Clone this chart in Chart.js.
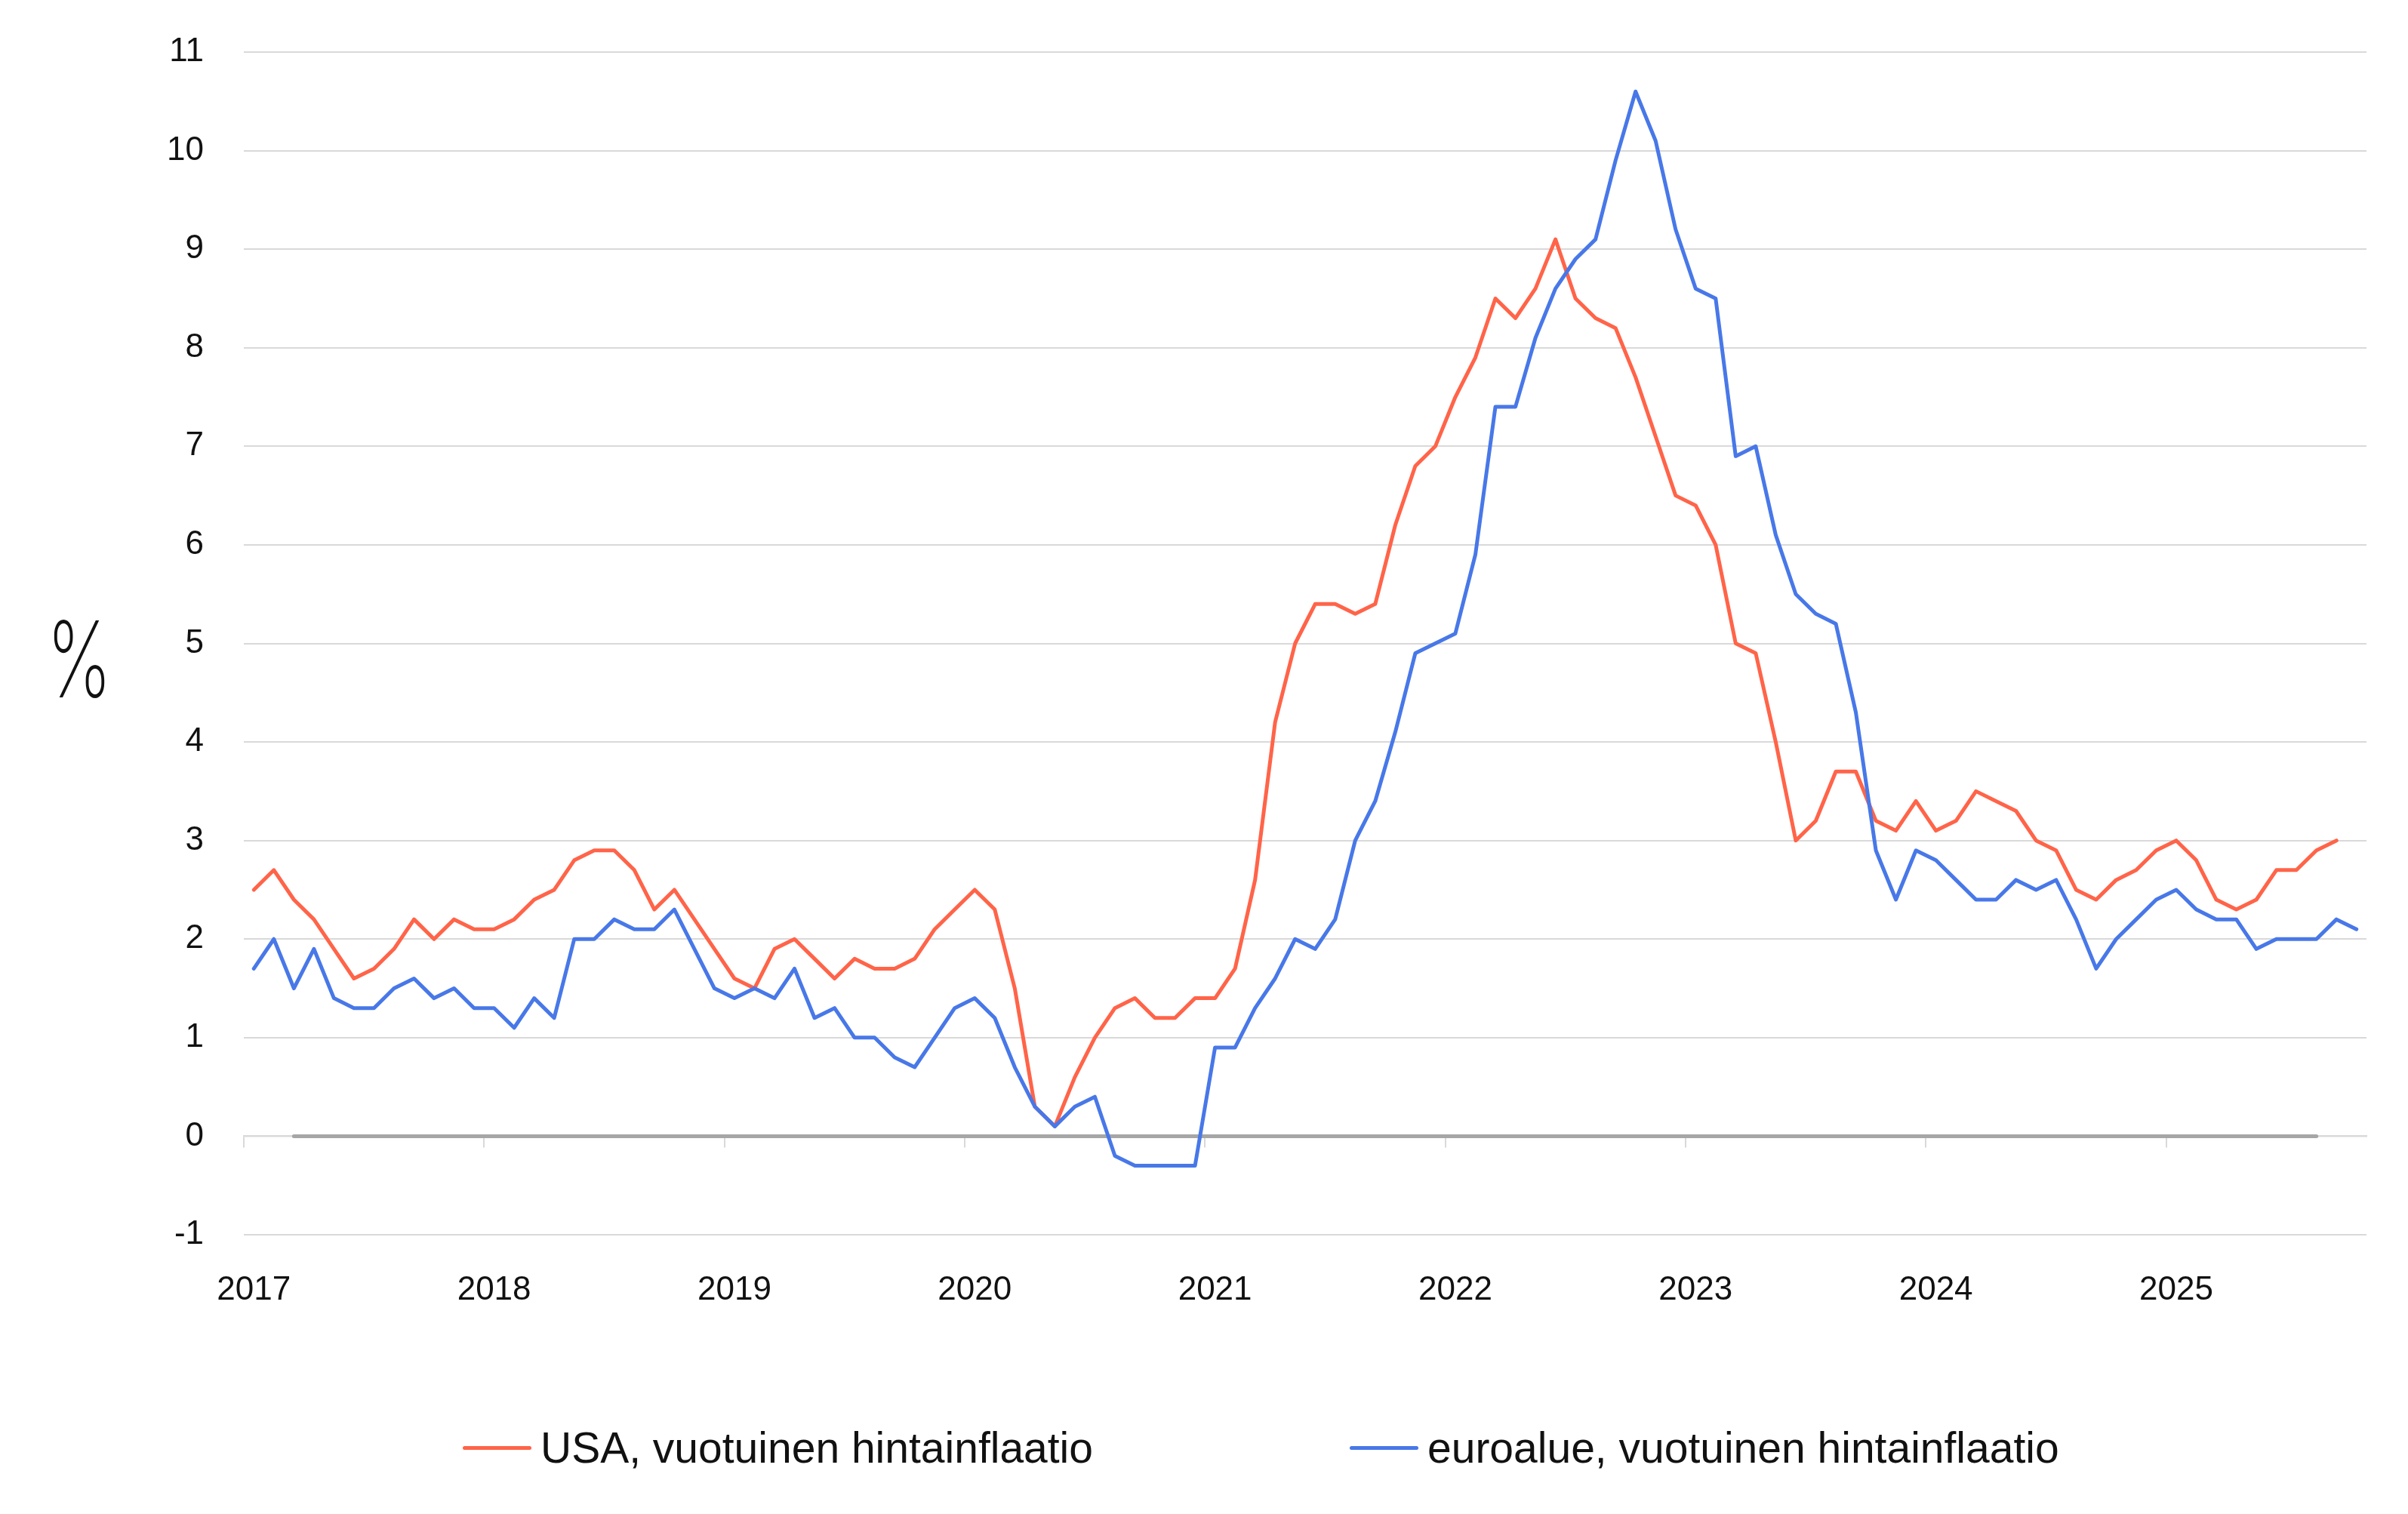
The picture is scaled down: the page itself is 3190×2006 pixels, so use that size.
<!DOCTYPE html>
<html lang="fi">
<head>
<meta charset="utf-8">
<script src="https://cdn.jsdelivr.net/npm/chart.js@4.4.1/dist/chart.umd.min.js"></script>
<style>
	html,body{margin:0;padding:0;background:#fff;}
	#wrap{position:relative;width:3190px;height:2006px;}
	#legend{position:absolute;left:613px;top:1885px;display:flex;align-items:center;
		font-family:"Liberation Sans",Arial,sans-serif;font-size:57px;line-height:66px;color:#111;white-space:nowrap;}
	.item{display:flex;align-items:center;}
	.item + .item{margin-left:340px;}
	.swatch{width:91px;height:5px;border-radius:3px;margin-right:12px;}
</style>
</head>
<body>
<div id="wrap">
	<canvas id="chart" width="3190" height="2006"></canvas>
	<div id="legend"></div>
</div>
<script>
// monthly, Jan 2017 .. Oct 2025
var years=['2017','2018','2019','2020','2021','2022','2023','2024','2025'];
var months=['01','02','03','04','05','06','07','08','09','10','11','12'];
var lastMonth=10; // Oct 2025

var usa=[
	2.5,2.7,2.4,2.2,1.9,1.6,1.7,1.9,2.2,2.0,2.2,2.1,
	2.1,2.2,2.4,2.5,2.8,2.9,2.9,2.7,2.3,2.5,2.2,1.9,
	1.6,1.5,1.9,2.0,1.8,1.6,1.8,1.7,1.7,1.8,2.1,2.3,
	2.5,2.3,1.5,0.3,0.1,0.6,1.0,1.3,1.4,1.2,1.2,1.4,
	1.4,1.7,2.6,4.2,5.0,5.4,5.4,5.3,5.4,6.2,6.8,7.0,
	7.5,7.9,8.5,8.3,8.6,9.1,8.5,8.3,8.2,7.7,7.1,6.5,
	6.4,6.0,5.0,4.9,4.0,3.0,3.2,3.7,3.7,3.2,3.1,3.4,
	3.1,3.2,3.5,3.4,3.3,3.0,2.9,2.5,2.4,2.6,2.7,2.9,
	3.0,2.8,2.4,2.3,2.4,2.7,2.7,2.9,3.0
];
var euro=[
	1.7,2.0,1.5,1.9,1.4,1.3,1.3,1.5,1.6,1.4,1.5,1.3,
	1.3,1.1,1.4,1.2,2.0,2.0,2.2,2.1,2.1,2.3,1.9,1.5,
	1.4,1.5,1.4,1.7,1.2,1.3,1.0,1.0,0.8,0.7,1.0,1.3,
	1.4,1.2,0.7,0.3,0.1,0.3,0.4,-0.2,-0.3,-0.3,-0.3,-0.3,
	0.9,0.9,1.3,1.6,2.0,1.9,2.2,3.0,3.4,4.1,4.9,5.0,
	5.1,5.9,7.4,7.4,8.1,8.6,8.9,9.1,9.9,10.6,10.1,9.2,
	8.6,8.5,6.9,7.0,6.1,5.5,5.3,5.2,4.3,2.9,2.4,2.9,
	2.8,2.6,2.4,2.4,2.6,2.5,2.6,2.2,1.7,2.0,2.2,2.4,
	2.5,2.3,2.2,2.2,1.9,2.0,2.0,2.0,2.2,2.1
];
// grey baseline series
var baseline=[
	null,null,0,0,0,0,0,0,0,0,0,0,
	0,0,0,0,0,0,0,0,0,0,0,0,
	0,0,0,0,0,0,0,0,0,0,0,0,
	0,0,0,0,0,0,0,0,0,0,0,0,
	0,0,0,0,0,0,0,0,0,0,0,0,
	0,0,0,0,0,0,0,0,0,0,0,0,
	0,0,0,0,0,0,0,0,0,0,0,0,
	0,0,0,0,0,0,0,0,0,0,0,0,
	0,0,0,0,0,0,0,0,null,null
];
var seriesNames=['USA, vuotuinen hintainflaatio','euroalue, vuotuinen hintainflaatio'];
var yTicks={min:-1,max:11,step:1};

var labels=[];
years.forEach(function(y,yi){
	months.forEach(function(m,mi){
		if(yi<years.length-1||mi<lastMonth) labels.push(y+'-'+m);
	});
});

var FONT='"Liberation Sans", Arial, sans-serif';
var RED='#FF6449',BLUE='#4878E8',GREY='#A6A6A6',GRID='#D9D9D9',TXT='#111111';

var percentTitle={
	id:'percentTitle',
	afterDraw:function(chart){
		var ctx=chart.ctx,a=chart.chartArea;
		ctx.save();
		ctx.font='200 140px Inter, "Liberation Sans", sans-serif';
		var w=ctx.measureText('%').width;
		ctx.translate(a.left-218,(a.top+a.bottom)/2+71);
		ctx.scale(86/w,1);
		ctx.fillStyle=TXT;
		ctx.textAlign='center';
		ctx.textBaseline='alphabetic';
		ctx.fillText('%',0,0);
		ctx.restore();
	}
};

var chartData={
	labels:labels,
	datasets:[
		{label:seriesNames[0],data:usa,borderColor:RED,backgroundColor:RED,borderWidth:5,order:1},
		{label:seriesNames[1],data:euro,borderColor:BLUE,backgroundColor:BLUE,borderWidth:5,order:0},
		{label:'',data:baseline,borderColor:GREY,backgroundColor:GREY,borderWidth:5,order:2}
	]
};

var chartOption={
	responsive:false,
	animation:false,
	devicePixelRatio:1,
	layout:{padding:{top:69,right:55,bottom:250,left:0}},
	elements:{point:{radius:0,hoverRadius:0},line:{tension:0,borderCapStyle:'round',borderJoinStyle:'round'}},
	plugins:{legend:{display:false},tooltip:{enabled:false}},
	scales:{
		x:{
			type:'category',position:'bottom',offset:true,
			grid:{display:false,drawTicks:false},border:{display:false},
			ticks:{autoSkip:false,maxRotation:0,padding:47,color:TXT,font:{family:FONT,size:44},
				callback:function(v,i){var l=this.getLabelForValue(v);return l.slice(5)==='01'?l.slice(0,4):'';}},
			afterFit:function(s){s.height=120;}
		},
		x0:{
			type:'category',axis:'x',position:{y:0},offset:true,
			grid:{offset:true,drawOnChartArea:false,drawTicks:true,tickLength:14,lineWidth:2,
				color:function(c){return c.index%12===0?GRID:'rgba(0,0,0,0)';}},
			border:{display:true,color:GRID,width:2.5},
			ticks:{display:false,autoSkip:false}
		},
		y:{
			min:yTicks.min,max:yTicks.max,
			grid:{color:GRID,lineWidth:2,drawTicks:false},border:{display:false},
			ticks:{stepSize:yTicks.step,padding:53,color:TXT,font:{family:FONT,size:44}},
			afterFit:function(s){s.width=323;s.paddingTop=0;s.paddingBottom=0;}
		}
	}
};

var ctx=document.getElementById('chart').getContext('2d');
var myChart=new Chart(ctx,{type:'line',data:chartData,options:chartOption,plugins:[percentTitle]});

// html legend from the datasets
var legendEl=document.getElementById('legend');
myChart.data.datasets.forEach(function(ds){
	if(!ds.label) return;
	var item=document.createElement('div');item.className='item';
	var sw=document.createElement('span');sw.className='swatch';sw.style.background=ds.borderColor;
	var tx=document.createElement('span');tx.textContent=ds.label;
	item.appendChild(sw);item.appendChild(tx);legendEl.appendChild(item);
});
</script>
</body>
</html>
